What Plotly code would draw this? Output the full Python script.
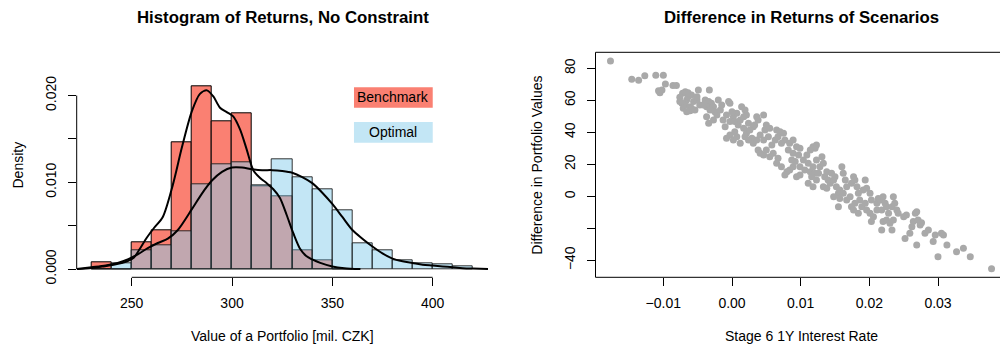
import plotly.graph_objects as go

# ---------------- data: left panel (histograms, densities) ----------------
bench_bin_centers = [235, 245, 255, 265, 275, 285, 295, 305, 315, 325, 335, 345, 355]
bench_density = [0.0008, 0.0000, 0.0031, 0.0045, 0.0146, 0.0211, 0.0170, 0.0180, 0.0095, 0.0084, 0.0021, 0.0010, 0.0000]

opt_bin_centers = [235, 245, 255, 265, 275, 285, 295, 305, 315, 325, 335, 345, 355, 365, 375, 385, 395, 405, 415]
opt_density = [0.0000, 0.0007, 0.0021, 0.0027, 0.0043, 0.0098, 0.0121, 0.0123, 0.0096, 0.0127, 0.0106, 0.0092,
               0.0068, 0.0030, 0.0022, 0.0010, 0.0007, 0.0005, 0.0003]

bench_kde_x = [222.6, 230, 236, 241, 245, 248, 251, 254, 257.5, 261, 265.5, 270.5, 275, 280, 284, 287.5, 290.7,
               294, 297.4, 300.6, 304, 307.3, 310.6, 314, 317.3, 320.6, 323.9, 327.3, 330.6, 334, 337, 340, 344,
               350, 356, 364]
bench_kde_y = [0.0, 0.0001, 0.0003, 0.0005, 0.0007, 0.0009, 0.0013, 0.0023, 0.0036, 0.0047, 0.0060, 0.0097,
               0.0140, 0.0182, 0.0202, 0.0206, 0.0199, 0.0186, 0.0181, 0.0176, 0.0161, 0.0138, 0.0114, 0.0105,
               0.0099, 0.0092, 0.0082, 0.0062, 0.0041, 0.0023, 0.0015, 0.0011, 0.0007, 0.0003, 0.0001, 0.0]

opt_kde_x = [222.6, 230, 237, 243, 248, 253, 258, 263, 268, 273, 280, 285, 290, 295, 300, 305, 310, 315, 320,
             325, 330, 335, 340, 345, 350, 355, 360, 365, 370, 375, 380, 385, 390, 395, 400, 405, 410, 415, 420,
             427.6]
opt_kde_y = [0.0, 0.0002, 0.0004, 0.0007, 0.0011, 0.0017, 0.0024, 0.0030, 0.0035, 0.0045, 0.0069, 0.0087,
             0.0102, 0.0112, 0.0117, 0.0117, 0.0115, 0.0114, 0.0114, 0.0113, 0.0111, 0.0106, 0.0099, 0.0088,
             0.0075, 0.0060, 0.0045, 0.0035, 0.0026, 0.0018, 0.0012, 0.0009, 0.0007, 0.0005, 0.0004, 0.0003,
             0.0002, 0.0001, 0.00005, 0.0]

left_xticks = [250, 300, 350, 400]
left_yticks = [0, 0.005, 0.010, 0.015, 0.020]
left_ytick_text = ["0.000", "", "0.010", "", "0.020"]

# ---------------- data: right panel (scatter) ----------------
rate = [-0.0177, -0.0146, -0.0136, -0.0127, -0.0111, -0.0100, -0.0107, -0.0105, -0.0102, -0.0097, -0.0086,
        -0.0081, -0.0076, -0.0072, -0.0068, -0.0064, -0.0059, -0.0066, -0.0073, -0.0068, -0.0061, -0.0056,
        -0.0051, -0.0049, -0.0047, -0.0054, -0.0061, -0.0071, -0.0066, -0.0059, -0.0076, -0.0064, -0.0051,
        -0.0033, -0.0039, -0.0034, -0.0030, -0.0037, -0.0027, -0.0042, -0.0032, -0.0025, -0.0037, -0.0034,
        -0.0027, -0.0022, -0.0017, -0.0020, -0.0015, -0.0005, -0.0003, -0.0013, -0.0008, -0.0010, -0.0003,
        0.0002, 0.0007, 0.0000, 0.0004, 0.0009, 0.0012, 0.0017, 0.0014, 0.0019, 0.0021, 0.0024, 0.0017,
        0.0004, -0.0003, -0.0008, 0.0002, 0.0007, 0.0012, 0.0021, 0.0026, 0.0031, 0.0036, 0.0038, 0.0046,
        0.0033, 0.0029, 0.0024, 0.0019, 0.0031, 0.0036, 0.0041, 0.0048, 0.0050, 0.0055, 0.0053, 0.0046,
        0.0038, 0.0041, 0.0046, 0.0050, 0.0058, 0.0063, 0.0067, 0.0065, 0.0070, 0.0075, 0.0077, 0.0072,
        0.0060, 0.0055, 0.0067, 0.0065, 0.0072, 0.0080, 0.0077, 0.0084, 0.0089, 0.0087, 0.0089, 0.0082,
        0.0084, 0.0089, 0.0094, 0.0099, 0.0097, 0.0092, 0.0099, 0.0104, 0.0109, 0.0111, 0.0106, 0.0099,
        0.0094, 0.0114, 0.0118, 0.0121, 0.0116, 0.0111, 0.0118, 0.0123, 0.0126, 0.0128, 0.0123, 0.0121,
        0.0118, 0.0114, 0.0123, 0.0131, 0.0133, 0.0138, 0.0135, 0.0140, 0.0133, 0.0138, 0.0143, 0.0148,
        0.0145, 0.0150, 0.0152, 0.0155, 0.0148, 0.0157, 0.0160, 0.0162, 0.0165, 0.0167, 0.0162, 0.0157,
        0.0155, 0.0167, 0.0172, 0.0174, 0.0177, 0.0179, 0.0182, 0.0184, 0.0186, 0.0179, 0.0174, 0.0177,
        0.0184, 0.0189, 0.0194, 0.0191, 0.0194, 0.0196, 0.0201, 0.0203, 0.0196, 0.0201, 0.0203, 0.0206,
        0.0211, 0.0211, 0.0213, 0.0216, 0.0220, 0.0223, 0.0218, 0.0225, 0.0228, 0.0220, 0.0218, 0.0225,
        0.0230, 0.0233, 0.0235, 0.0233, 0.0235, 0.0237, 0.0240, 0.0242, 0.0250, 0.0254, 0.0252, 0.0259,
        0.0262, 0.0264, 0.0267, 0.0269, 0.0271, 0.0274, 0.0276, 0.0269, 0.0281, 0.0286, 0.0293, 0.0296,
        0.0300, 0.0305, 0.0308, 0.0313, 0.0327, 0.0337, 0.0347, 0.0378]
diff_values = [84.6, 73.1, 72.5, 75.4, 75.6, 75.6, 66.0, 64.8, 66.5, 70.2, 69.2, 69.2, 61.9, 64.4, 65.4, 64.8,
               63.3, 60.2, 58.1, 57.1, 56.0, 59.2, 60.2, 66.5, 57.1, 54.0, 53.5, 55.0, 52.9, 55.0, 59.2, 62.3,
               62.3, 66.5, 60.2, 59.2, 58.1, 56.0, 56.0, 57.1, 54.0, 52.9, 49.8, 45.6, 47.7, 50.8, 54.0, 60.2,
               57.1, 59.2, 58.1, 47.7, 50.8, 43.5, 46.7, 49.8, 51.9, 52.9, 46.7, 44.6, 47.7, 49.8, 56.0, 54.0,
               50.8, 45.6, 42.5, 40.4, 38.3, 36.3, 35.2, 37.3, 33.1, 39.4, 41.5, 43.5, 49.8, 47.7, 50.8, 44.6,
               36.3, 35.2, 37.3, 33.1, 35.2, 38.3, 41.5, 44.6, 42.5, 37.3, 35.2, 29.0, 26.9, 25.8, 29.0, 32.1,
               35.2, 37.3, 41.5, 40.4, 39.4, 35.2, 33.1, 26.9, 24.8, 23.8, 20.6, 18.5, 15.4, 13.3, 16.5, 18.5,
               22.7, 26.9, 29.0, 33.1, 35.2, 31.0, 30.0, 25.8, 21.7, 18.5, 22.7, 25.8, 20.6, 16.5, 13.3, 12.3,
               15.4, 18.5, 14.4, 12.3, 8.1, 6.0, 10.2, 14.4, 18.5, 22.7, 30.0, 31.0, 29.0, 32.1, 24.8, 20.6,
               15.4, 12.3, 10.2, 6.0, 5.0, 8.1, 10.2, 14.4, 12.3, 6.0, 1.9, -0.2, 4.0, 18.5, 14.4, 10.2, 6.0,
               1.9, -1.3, -6.5, -2.3, -0.2, 8.1, 12.3, 10.2, 6.0, 1.9, -2.3, -4.4, -6.5, -8.5, -10.6, -6.5,
               -4.4, 4.0, 10.2, 5.0, 1.9, -2.3, -8.5, -10.6, -15.8, -12.7, -8.5, -4.4, -1.3, -2.3, -0.2, -4.4,
               -8.5, -6.5, -10.6, -15.8, -21.0, -14.8, -16.9, -21.0, -14.8, -6.5, -0.2, -4.4, -8.5, -10.6,
               -12.7, -11.7, -26.3, -23.1, -19.0, -15.8, -10.6, -9.6, -14.8, -17.9, -16.5, -30.4, -23.1, -21.0,
               -28.3, -24.2, -37.7, -23.1, -24.2, -30.4, -34.6, -32.5, -37.7, -45.2]

right_xticks = [-0.01, 0.0, 0.01, 0.02, 0.03]
right_xtick_text = ["\u22120.01", "0.00", "0.01", "0.02", "0.03"]
right_yticks = [-40, -20, 0, 20, 40, 60, 80]
right_ytick_text = ["\u221240", "", "0", "20", "40", "60", "80"]

# ---------------- figure ----------------
W, H = 1000, 344
FONT = "Liberation Sans, Arial, Helvetica, sans-serif"


def fx(p):
    return p / W


def fy(p):
    return 1 - p / H


fig = go.Figure()

fig.add_trace(go.Bar(x=bench_bin_centers, y=bench_density, width=10,
                     marker=dict(color="#FA8072", line=dict(color="black", width=1)),
                     xaxis="x", yaxis="y", showlegend=False, hoverinfo="skip"))
fig.add_trace(go.Bar(x=opt_bin_centers, y=opt_density, width=10,
                     marker=dict(color="rgba(135,206,235,0.5)", line=dict(color="rgba(20,20,20,0.85)", width=1)),
                     xaxis="x", yaxis="y", showlegend=False, hoverinfo="skip"))
fig.add_trace(go.Scatter(x=bench_kde_x, y=bench_kde_y, mode="lines",
                         line=dict(color="black", width=2, shape="spline", smoothing=0.8),
                         xaxis="x", yaxis="y", showlegend=False, hoverinfo="skip"))
fig.add_trace(go.Scatter(x=opt_kde_x, y=opt_kde_y, mode="lines",
                         line=dict(color="black", width=2, shape="spline", smoothing=0.8),
                         xaxis="x", yaxis="y", showlegend=False, hoverinfo="skip"))

fig.add_trace(go.Scatter(x=rate, y=diff_values, mode="markers",
                         marker=dict(color="#A9A9A9", size=7, line=dict(width=0)),
                         xaxis="x2", yaxis="y2", showlegend=False, hoverinfo="skip"))

y_dom = [fy(277.3), fy(52.3)]
axis_common = dict(showgrid=False, zeroline=False, showline=False, ticks="outside", ticklen=8,
                   tickwidth=1, tickcolor="black", tickfont=dict(family=FONT, size=14, color="black"),
                   tickmode="array", automargin=False)

fig.update_layout(
    template="none",
    width=W, height=H, margin=dict(l=0, r=0, t=0, b=0, pad=0, autoexpand=False),
    paper_bgcolor="white", plot_bgcolor="white",
    barmode="overlay", bargap=0,
    font=dict(family=FONT, size=14, color="black"),
    xaxis=dict(domain=[fx(76.7), fx(488.2)], range=[222.58, 427.7], anchor="y",
               tickvals=left_xticks, ticktext=[str(v) for v in left_xticks],
               ticklabelstandoff=5, **axis_common),
    yaxis=dict(domain=y_dom, range=[-0.000957, 0.02499], anchor="x",
               tickvals=left_yticks, ticktext=left_ytick_text, tickangle=-90,
               ticklabelstandoff=6, **axis_common),
    xaxis2=dict(domain=[fx(595.5), 1.0], range=[-0.01988, 0.03903], anchor="y2",
                tickvals=right_xticks, ticktext=right_xtick_text,
                ticklabelstandoff=5, **axis_common),
    yaxis2=dict(domain=y_dom, range=[-50.6, 90.0], anchor="x2",
                tickvals=right_yticks, ticktext=right_ytick_text, tickangle=-90,
                ticklabelstandoff=6, **axis_common),
)

line_style = dict(color="black", width=1)
shapes = [
    # left panel axis lines (R style, spanning the tick range only)
    dict(type="line", xref="x domain", x0=0, x1=0, yref="y", y0=0, y1=0.02, line=line_style),
    dict(type="line", xref="x", x0=250, x1=400, yref="y domain", y0=0, y1=0, line=line_style),
    # right panel box (right side runs past the page)
    dict(type="line", xref="x2 domain", x0=0, x1=0, yref="y2 domain", y0=0, y1=1, line=line_style),
    dict(type="line", xref="x2 domain", x0=0, x1=1, yref="y2 domain", y0=1, y1=1, line=line_style),
    dict(type="line", xref="x2 domain", x0=0, x1=1, yref="y2 domain", y0=0, y1=0, line=line_style),
    # legend boxes
    dict(type="rect", xref="x", yref="y", x0=360.8, x1=400.05, y0=0.0186, y1=0.02096,
         fillcolor="#FA8072", line=dict(width=0)),
    dict(type="rect", xref="x", yref="y", x0=360.8, x1=400.05, y0=0.01457, y1=0.01696,
         fillcolor="rgba(135,206,235,0.5)", line=dict(width=0)),
]
fig.update_layout(shapes=shapes)

ann = []
def add_text(text, x, y, size=14, angle=0, ref=("paper", "paper")):
    ann.append(dict(text=text, x=x, y=y, xref=ref[0], yref=ref[1], showarrow=False,
                    xanchor="center", yanchor="middle", textangle=angle,
                    font=dict(family=FONT, size=size, color="black")))

add_text("<b>Histogram of Returns, No Constraint</b>", fx(282.5), fy(18), size=16.8)
add_text("<b>Difference in Returns of Scenarios</b>", fx(801), fy(18), size=16.8)
add_text("Value of a Portfolio [mil. CZK]", fx(282.5), fy(336))
add_text("Stage 6 1Y Interest Rate", fx(801), fy(336))
add_text("Density", fx(17.5), fy(165), angle=-90)
add_text("Difference in Portfolio Values", fx(536.7), fy(165), angle=-90)
add_text("Benchmark", 380.4, 0.01978, ref=("x", "y"))
add_text("Optimal", 380.4, 0.01577, ref=("x", "y"))
fig.update_layout(annotations=ann)

fig.write_html("out.html", config={"displayModeBar": False},
               post_script="document.body.style.margin='0px';document.body.style.overflow='hidden';")
